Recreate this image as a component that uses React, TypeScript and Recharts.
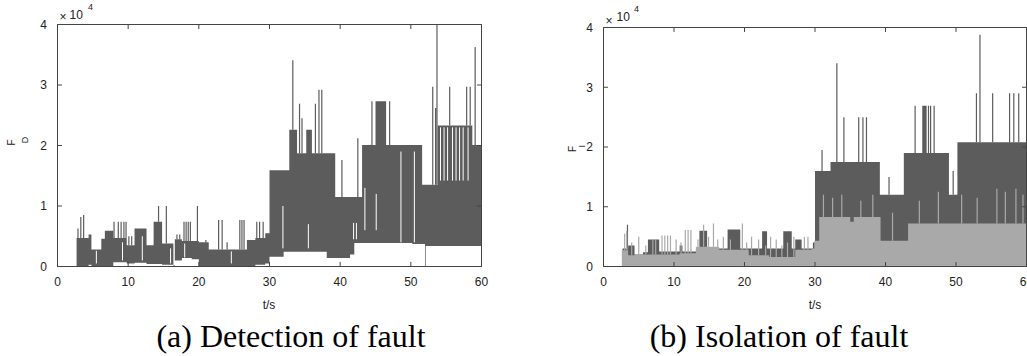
import React from "react";
import { Area, ComposedChart, Line, ReferenceArea, ReferenceLine, XAxis, YAxis } from "recharts";

// values in units of 1e4
const xTicks = [0, 10, 20, 30, 40, 50, 60];
const yTicks = [0, 1, 2, 3, 4];

// (a) F_D: stepped band (low / high envelope)
const fdT = [2.7, 3.5, 4.4, 4.8, 6.2, 6.7, 7.9, 9.8, 10.9, 12.6, 13.6, 14.8, 16.4, 16.6, 17.6, 19.0, 20.0, 21.4, 22.8, 26.8, 28.0, 29.4, 30.0, 32.0, 32.8, 33.9, 35.2, 36.0, 38.1, 39.3, 41.4, 42.0, 43.1, 45.0, 46.5, 50.2, 51.6, 52.0, 52.1, 53.8, 58.7, 60];
const fdLo = [0, 0, 0.03, 0, 0, 0, 0.07, 0.05, 0.06, 0.04, 0.04, 0.03, 0, 0.1, 0.14, 0.12, 0, 0, 0, 0, 0.03, 0.05, 0.16, 0.245, 0.245, 0.245, 0.245, 0.245, 0.14, 0.14, 0.2, 0.39, 0.39, 0.39, 0.39, 0.37, 0.37, 0, 0.34, 0.34, 0.34, 0.34];
const fdHi = [0.47, 0.47, 0.53, 0.28, 0.46, 0.59, 0.47, 0.35, 0.63, 0.35, 0.74, 0.38, 0.02, 0.45, 0.42, 0.42, 0.4, 0.28, 0.28, 0.44, 0.47, 0.55, 1.59, 1.59, 2.26, 1.87, 2.26, 1.87, 1.87, 1.15, 1.15, 1.15, 2.01, 2.73, 2.01, 2.01, 1.35, 1.35, 1.35, 2.33, 2.01, 2.01];
// (a) spikes above the band
const fdSpikeT = [2.9, 3.3, 3.7, 4.6, 6.9, 7.5, 8.0, 8.6, 9.0, 9.4, 9.7, 10.1, 10.5, 14.3, 15.4, 16.9, 17.3, 17.9, 18.2, 18.5, 18.8, 19.8, 21.0, 22.8, 23.3, 24.0, 25.8, 26.1, 26.4, 27.3, 28.2, 28.6, 29.1, 33.3, 34.25, 34.6, 36.5, 37.0, 37.4, 40.25, 42.5, 44.5, 45.1, 47.0, 53.1, 53.5, 53.7, 55.5, 57.9, 58.4, 59.1];
const fdSpikeV = [0.63, 0.82, 0.85, 0.53, 0.59, 0.59, 0.74, 0.74, 0.74, 0.74, 0.74, 0.5, 0.5, 1.0, 1.0, 0.53, 0.53, 0.74, 0.74, 0.74, 0.74, 1.0, 0.44, 0.77, 0.77, 0.4, 0.77, 0.77, 0.77, 0.44, 0.74, 0.74, 0.74, 3.41, 2.69, 2.45, 2.69, 2.92, 2.92, 1.76, 2.12, 2.73, 2.35, 2.73, 2.97, 2.62, 4.0, 2.97, 2.97, 2.97, 3.63];
// (a) white gaps inside the band
const fdGapT = [5.5, 9.2, 12.0, 16.0, 18.0, 24.6, 31.9, 35.5, 41.9, 42.3, 43.5, 45.1, 48.6, 50.5, 54.2, 54.7, 55.2, 55.9, 56.4, 56.9, 57.4, 58.1];
const fdGapLo = [0.05, 0.1, 0.1, 0.05, 0.15, 0.05, 0.3, 0.3, 0.45, 0.45, 0.6, 0.6, 0.4, 0.4, 1.42, 1.42, 1.42, 1.42, 1.42, 1.42, 1.42, 1.42];
const fdGapHi = [0.26, 0.4, 0.5, 0.3, 0.38, 0.25, 1.0, 0.7, 0.72, 0.72, 1.3, 1.2, 1.9, 1.9, 2.3, 2.3, 2.3, 2.3, 2.3, 2.3, 2.3, 2.3];

// (b) F_I, dark channel
const fiDarkT = [0, 2.7, 3.5, 4.4, 5.6, 6.3, 7.9, 10.8, 11.2, 13.6, 14.7, 17.6, 19.4, 22.5, 23.2, 25.5, 26.7, 27.2, 28.1, 29.7, 30.0, 32.2, 39.2, 42.6, 49.0, 50.2, 60];
const fiDarkLo = [0, 0, 0, 0, 0, 0, 0, 0, 0, 0, 0, 0, 0, 0, 0, 0, 0, 0, 0, 0, 0, 0, 0, 0, 0, 0, 0];
const fiDarkHi = [0, 0.3, 0.35, 0.2, 0.24, 0.45, 0.25, 0.35, 0.25, 0.6, 0.3, 0.62, 0.3, 0.59, 0.3, 0.59, 0.3, 0.45, 0.3, 0.4, 1.6, 1.75, 1.2, 1.9, 1.2, 2.08, 2.08];
const fiDarkSpikeT = [3.4, 31.0, 33.1, 34.1, 36.2, 36.8, 37.3, 40.5, 44.2, 45.3, 45.45, 45.6, 45.75, 46.1, 46.4, 46.9, 49.6, 52.9, 53.4, 55.2, 57.6, 58.2, 58.9];
const fiDarkSpikeV = [0.7, 1.95, 3.4, 2.5, 2.5, 2.5, 2.5, 1.5, 2.69, 2.69, 2.69, 2.69, 2.69, 2.69, 2.69, 2.69, 1.6, 2.9, 3.88, 2.9, 2.9, 2.9, 2.9];

// (b) F_I, light channel
const fiLightT = [2.6, 3.5, 4.4, 5.6, 10.8, 13.1, 16.4, 20.6, 23.5, 27.2, 29.5, 29.9, 30.6, 35.0, 35.5, 39.3, 43.2, 60];
const fiLightLo = [0, 0, 0, 0, 0, 0, 0, 0, 0, 0, 0, 0, 0, 0, 0, 0, 0, 0];
const fiLightHi = [0.27, 0.19, 0.2, 0.2, 0.22, 0.33, 0.28, 0.19, 0.16, 0.28, 0.3, 0.43, 0.83, 0.75, 0.83, 0.43, 0.72, 0.72];
const fiLightSpikeT = [3.0, 3.3, 4.0, 5.0, 6.0, 7.0, 7.4, 8.3, 8.7, 9.1, 9.5, 10.3, 11.0, 11.6, 12.0, 12.4, 13.4, 14.2, 14.9, 15.6, 16.2, 17.0, 18.0, 19.7, 20.3, 21.0, 22.0, 23.0, 23.7, 24.5, 25.3, 26.1, 27.0, 28.5, 29.0, 31.2, 32.5, 33.8, 36.5, 38.2, 41.0, 44.8, 47.5, 50.8, 53.0, 55.8, 57.0, 58.5, 59.5];
const fiLightSpikeV = [0.55, 0.6, 0.4, 0.5, 0.35, 0.45, 0.45, 0.52, 0.52, 0.52, 0.52, 0.45, 0.4, 0.61, 0.61, 0.61, 0.45, 0.7, 0.5, 0.72, 0.45, 0.5, 0.45, 0.72, 0.4, 0.5, 0.45, 0.35, 0.5, 0.45, 0.35, 0.4, 0.5, 0.5, 0.5, 1.2, 1.15, 1.2, 1.1, 1.2, 0.9, 1.1, 1.25, 1.2, 1.15, 1.3, 1.25, 1.3, 1.2];

const DARK = "#5c5c5c";
const LIGHT = "#a9a9a9";
const AXIS = "#444";
const TICK_Y = 0.075; // inward tick length, y units
const TICK_X = 0.64; // inward tick length, x units
const sans = "'Liberation Sans', Arial, Helvetica, sans-serif";
const serif = "'Liberation Serif', 'Times New Roman', serif";

const band = (t: number[], lo: number[], hi: number[]) =>
  t.map((x, i) => ({ t: x, r: [lo[i], hi[i]] }));

const topAt = (t: number[], hi: number[], x: number) => {
  let v = 0;
  for (let i = 0; i < t.length; i++) if (t[i] <= x) v = hi[i];
  return v;
};

// vertical segments, separated by nulls so they don't join up
const spikes = (st: number[], sv: number[], t: number[], hi: number[]) => {
  const out: { t: number; v: number | null }[] = [];
  st.forEach((x, i) => {
    out.push({ t: x, v: Math.min(topAt(t, hi, x), sv[i]) });
    out.push({ t: x, v: sv[i] });
    out.push({ t: x, v: null });
  });
  return out;
};

const segments = (st: number[], lo: number[], hi: number[]) => {
  const out: { t: number; v: number | null }[] = [];
  st.forEach((x, i) => {
    out.push({ t: x, v: lo[i] });
    out.push({ t: x, v: hi[i] });
    out.push({ t: x, v: null });
  });
  return out;
};

const tickStyle = { fill: "#222", fontSize: 12, fontFamily: sans };

// axes (labels only) + box and inward ticks like a matlab figure
function Frame() {
  const els = [
    <XAxis
      key="xb"
      dataKey="t"
      type="number"
      domain={[0, 60]}
      ticks={xTicks}
      interval={0}
      height={30}
      tickSize={-4.5}
      tickMargin={15}
      axisLine={false}
      tickLine={false}
      tick={tickStyle}
      allowDataOverflow
    />,
    <YAxis
      key="yl"
      type="number"
      domain={[0, 4]}
      ticks={yTicks}
      interval={0}
      width={30}
      tickSize={-4.5}
      tickMargin={15}
      axisLine={false}
      tickLine={false}
      tick={tickStyle}
      allowDataOverflow
    />,
    <ReferenceArea key="box" x1={0} x2={60} y1={0} y2={4} stroke={AXIS} strokeWidth={1} fill="none" fillOpacity={0} ifOverflow="visible" />,
  ];
  xTicks.forEach((t) => {
    els.push(<ReferenceLine key={"b" + t} segment={[{ x: t, y: 0 }, { x: t, y: TICK_Y }]} stroke={AXIS} ifOverflow="visible" />);
    els.push(<ReferenceLine key={"t" + t} segment={[{ x: t, y: 4 }, { x: t, y: 4 - TICK_Y }]} stroke={AXIS} ifOverflow="visible" />);
  });
  yTicks.forEach((v) => {
    els.push(<ReferenceLine key={"l" + v} segment={[{ x: 0, y: v }, { x: TICK_X, y: v }]} stroke={AXIS} ifOverflow="visible" />);
    els.push(<ReferenceLine key={"r" + v} segment={[{ x: 60, y: v }, { x: 60 - TICK_X, y: v }]} stroke={AXIS} ifOverflow="visible" />);
  });
  return els;
}

function BandArea({ data, color }: { data: any[]; color: string }) {
  return (
    <Area
      data={data}
      dataKey="r"
      type="stepAfter"
      stroke="none"
      fill={color}
      fillOpacity={1}
      isAnimationActive={false}
      dot={false}
      activeDot={false}
    />
  );
}

function Segs({ data, color, w = 1.2 }: { data: any[]; color: string; w?: number }) {
  return (
    <Line
      data={data}
      dataKey="v"
      type="linear"
      stroke={color}
      strokeWidth={w}
      dot={false}
      activeDot={false}
      connectNulls={false}
      isAnimationActive={false}
    />
  );
}

export default function App() {
  const fdBand = band(fdT, fdLo, fdHi);
  const fdSpk = spikes(fdSpikeT, fdSpikeV, fdT, fdHi);
  const fdGap = segments(fdGapT, fdGapLo, fdGapHi);
  const darkBand = band(fiDarkT, fiDarkLo, fiDarkHi);
  const darkSpk = spikes(fiDarkSpikeT, fiDarkSpikeV, fiDarkT, fiDarkHi);
  const lightBand = band(fiLightT, fiLightLo, fiLightHi);
  const lightSpk = spikes(fiLightSpikeT, fiLightSpikeV, fiLightT, fiLightHi);

  return (
    <div style={{ position: "relative", width: 1027, height: 356, overflow: "hidden", background: "#fff" }}>
      <style>{`body{margin:0}`}</style>
      <div style={{ position: "absolute", left: 0, top: 0 }}>
        <ComposedChart width={500} height={297} margin={{ top: 24.5, right: 18.5, bottom: 0.5, left: 27.5 }}>
          {BandArea({ data: fdBand, color: DARK })}
          {Segs({ data: fdSpk, color: DARK })}
          {Segs({ data: fdGap, color: "#fff", w: 1 })}
          {Frame()}
        </ComposedChart>
      </div>
      <div style={{ position: "absolute", left: 560, top: 0 }}>
        <ComposedChart width={480} height={297} margin={{ top: 27.5, right: 13.5, bottom: 0.5, left: 13.5 }}>
          {BandArea({ data: darkBand, color: DARK })}
          {Segs({ data: darkSpk, color: DARK })}
          {BandArea({ data: lightBand, color: LIGHT })}
          {Segs({ data: lightSpk, color: LIGHT })}
          {Frame()}
        </ComposedChart>
      </div>
      <svg width={1027} height={356} style={{ position: "absolute", left: 0, top: 0, pointerEvents: "none" }} fontFamily={sans} fill="#222">
        <text x={59.5} y={20.5} fontSize={12}>×</text>
        <text x={69.5} y={18.5} fontSize={12}>10</text>
        <text x={88} y={10} fontSize={9}>4</text>
        <text transform="translate(15,145.5) rotate(-90)" fontSize={10}>F</text>
        <text transform="translate(28,143.3) rotate(-90)" fontSize={9}>D</text>
        <text x={269} y={309} textAnchor="middle" fontSize={12}>t/s</text>
        <text x={291} y={346.5} textAnchor="middle" fontSize={32} fontFamily={serif} fill="#000">(a) Detection of fault</text>

        <text x={605.5} y={24.5} fontSize={12}>×</text>
        <text x={616.5} y={20.5} fontSize={12}>10</text>
        <text x={634} y={12} fontSize={9}>4</text>
        <text transform="translate(575.5,152) rotate(-90)" fontSize={10}>F</text>
        <text transform="translate(585,147.5) rotate(-90)" fontSize={9}>I</text>
        <text x={815} y={309} textAnchor="middle" fontSize={12}>t/s</text>
        <text x={779} y={346.5} textAnchor="middle" fontSize={32} fontFamily={serif} fill="#000">(b) Isolation of fault</text>
      </svg>
    </div>
  );
}
